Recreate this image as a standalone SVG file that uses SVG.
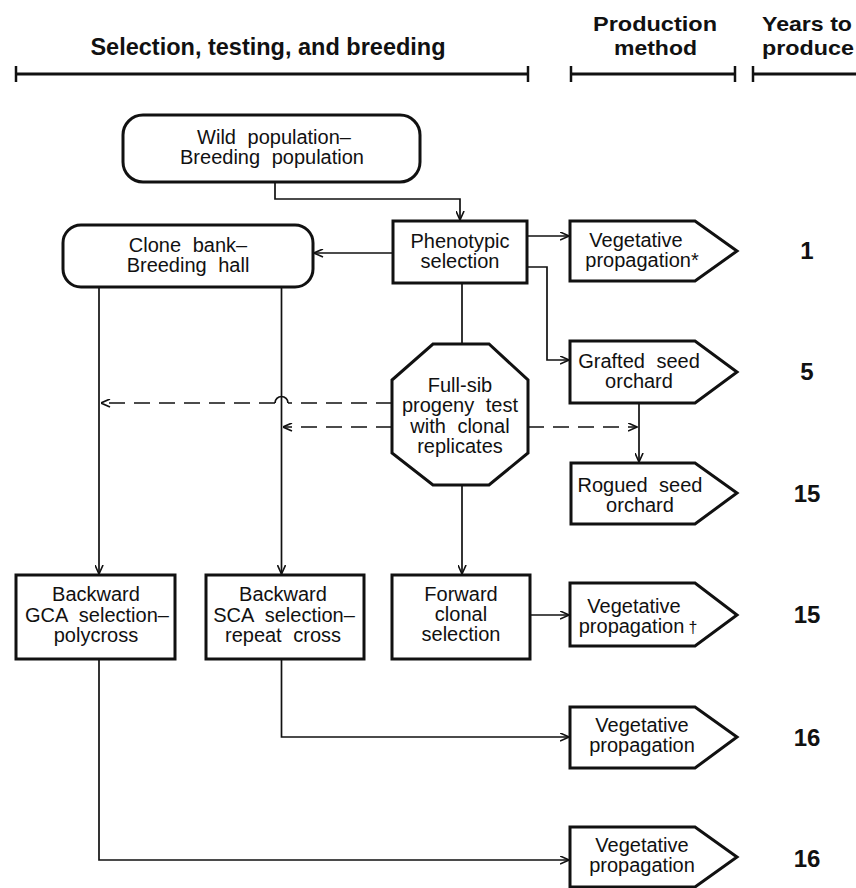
<svg xmlns="http://www.w3.org/2000/svg" width="856" height="888" viewBox="0 0 856 888">
<style>
.hdr{font-family:"Liberation Sans",Arial,sans-serif;font-weight:bold;font-size:23.5px;fill:#111}
.hdr2{font-family:"Liberation Sans",Arial,sans-serif;font-weight:bold;font-size:20.5px;fill:#111}
.num{font-family:"Liberation Sans",Arial,sans-serif;font-weight:bold;font-size:24px;fill:#111;text-anchor:middle}
.t{font-family:"Liberation Sans",Arial,sans-serif;font-size:20px;fill:#111;text-anchor:middle;word-spacing:6px}
.box{fill:#fff;stroke:#111;stroke-width:3}
.bar{stroke:#111;stroke-width:3;fill:none}
.tick{stroke:#111;stroke-width:2.5}
.c{fill:none;stroke:#111;stroke-width:1.7}
.d{fill:none;stroke:#111;stroke-width:1.7;stroke-dasharray:16 9}
</style>
<defs>
<marker id="ar" viewBox="0 0 10 10" refX="10" refY="5" markerWidth="10" markerHeight="9" orient="auto" markerUnits="userSpaceOnUse">
<path d="M0,0.5 L10,5 L0,9.5" fill="none" stroke="#111" stroke-width="1.8"/>
</marker>
</defs>
<rect width="856" height="888" fill="#fff"/>

<g id="headers">
<text class="hdr" x="268" y="55" text-anchor="middle">Selection, testing, and breeding</text>
<line class="bar" x1="16" y1="74" x2="528" y2="74"/>
<line class="tick" x1="16" y1="66" x2="16" y2="82"/>
<line class="tick" x1="528" y1="66" x2="528" y2="82"/>
<text class="hdr2" x="593" y="31" textLength="124" lengthAdjust="spacingAndGlyphs">Production</text>
<text class="hdr2" x="614" y="55" textLength="83" lengthAdjust="spacingAndGlyphs">method</text>
<line class="bar" x1="571" y1="74" x2="735" y2="74"/>
<line class="tick" x1="571" y1="66" x2="571" y2="82"/>
<line class="tick" x1="735" y1="66" x2="735" y2="82"/>
<text class="hdr2" x="762" y="31" textLength="90" lengthAdjust="spacingAndGlyphs">Years to</text>
<text class="hdr2" x="762" y="55" textLength="92" lengthAdjust="spacingAndGlyphs">produce</text>
<line class="bar" x1="753" y1="74" x2="856" y2="74"/>
<line class="tick" x1="753" y1="66" x2="753" y2="82"/>
</g>

<g id="connectors">
<path class="c" d="M275,182 V199 H460 V220" marker-end="url(#ar)"/>
<path class="c" d="M393,253 H314" marker-end="url(#ar)"/>
<path class="c" d="M527,236 H569" marker-end="url(#ar)"/>
<path class="c" d="M527,267 H547 V360 H569" marker-end="url(#ar)"/>
<path class="c" d="M99,287 V574" marker-end="url(#ar)"/>
<path class="c" d="M281.5,287 V574" marker-end="url(#ar)"/>
<path class="c" d="M462,283 V344"/>
<path class="c" d="M462,485 V574" marker-end="url(#ar)"/>
<path class="c" d="M639,402 V462" marker-end="url(#ar)"/>
<path class="d" d="M392,403 H288"/>
<path class="c" d="M288,403 A6.5,6.5 0 0 0 275,403"/>
<path class="d" d="M275,403 H101" marker-end="url(#ar)"/>
<path class="d" d="M392,427 H283" marker-end="url(#ar)"/>
<path class="d" d="M528,427 H637" marker-end="url(#ar)"/>
<path class="c" d="M530,615 H569" marker-end="url(#ar)"/>
<path class="c" d="M281.5,659 V737 H569" marker-end="url(#ar)"/>
<path class="c" d="M99,659 V860 H569" marker-end="url(#ar)"/>
</g>

<g id="wild">
<rect class="box" x="123" y="115" width="297" height="67" rx="20"/>
<text class="t" x="274" y="144">Wild population–</text>
<text class="t" x="272" y="164">Breeding population</text>
</g>

<g id="clone">
<rect class="box" x="63" y="225" width="250" height="62" rx="18"/>
<text class="t" x="188" y="252">Clone bank–</text>
<text class="t" x="188" y="272">Breeding hall</text>
</g>

<g id="pheno">
<rect class="box" x="393" y="221" width="134" height="62"/>
<text class="t" x="460" y="248">Phenotypic</text>
<text class="t" x="460" y="268">selection</text>
</g>

<g id="veg1">
<polygon class="box" points="570,221 695,221 737,251 695,281 570,281"/>
<text class="t" x="636" y="247">Vegetative</text>
<text class="t" x="642" y="267">propagation*</text>
</g>
<text class="num" x="807" y="259">1</text>

<g id="grafted">
<polygon class="box" points="570,341 695,341 737,372 695,403 570,403"/>
<text class="t" x="639" y="368">Grafted seed</text>
<text class="t" x="639" y="388">orchard</text>
</g>
<text class="num" x="807" y="380">5</text>

<g id="octagon">
<polygon class="box" points="433,344 489,344 528,380 528,453 489,485 433,485 392,453 392,380"/>
<text class="t" x="460" y="392">Full-sib</text>
<text class="t" x="460" y="412">progeny test</text>
<text class="t" x="460" y="433">with clonal</text>
<text class="t" x="460" y="453">replicates</text>
</g>

<g id="rogued">
<polygon class="box" points="571,463 695,463 737,493 695,524 571,524"/>
<text class="t" x="640" y="492">Rogued seed</text>
<text class="t" x="640" y="512">orchard</text>
</g>
<text class="num" x="807" y="502">15</text>

<g id="gca">
<rect class="box" x="16" y="575" width="159" height="84"/>
<text class="t" x="96" y="601">Backward</text>
<text class="t" x="97" y="622">GCA selection–</text>
<text class="t" x="96" y="642">polycross</text>
</g>

<g id="sca">
<rect class="box" x="206" y="575" width="158" height="84"/>
<text class="t" x="283" y="601">Backward</text>
<text class="t" x="284" y="622">SCA selection–</text>
<text class="t" x="283" y="642">repeat cross</text>
</g>

<g id="forward">
<rect class="box" x="392" y="575" width="138" height="84"/>
<text class="t" x="461" y="601">Forward</text>
<text class="t" x="461" y="621">clonal</text>
<text class="t" x="461" y="641">selection</text>
</g>

<g id="veg2">
<polygon class="box" points="570,583 695,583 737,615 695,646 570,646"/>
<text class="t" x="634" y="613">Vegetative</text>
<text class="t" x="638" y="633">propagation<tspan dx="4" font-size="16">†</tspan></text>
</g>
<text class="num" x="807" y="623">15</text>

<g id="veg3">
<polygon class="box" points="570,707 695,707 737,737 695,768 570,768"/>
<text class="t" x="642" y="732">Vegetative</text>
<text class="t" x="642" y="752">propagation</text>
</g>
<text class="num" x="807" y="746">16</text>

<g id="veg4">
<polygon class="box" points="570,827 695,827 737,857 695,887 570,887"/>
<text class="t" x="642" y="852">Vegetative</text>
<text class="t" x="642" y="872">propagation</text>
</g>
<text class="num" x="807" y="867">16</text>
</svg>
